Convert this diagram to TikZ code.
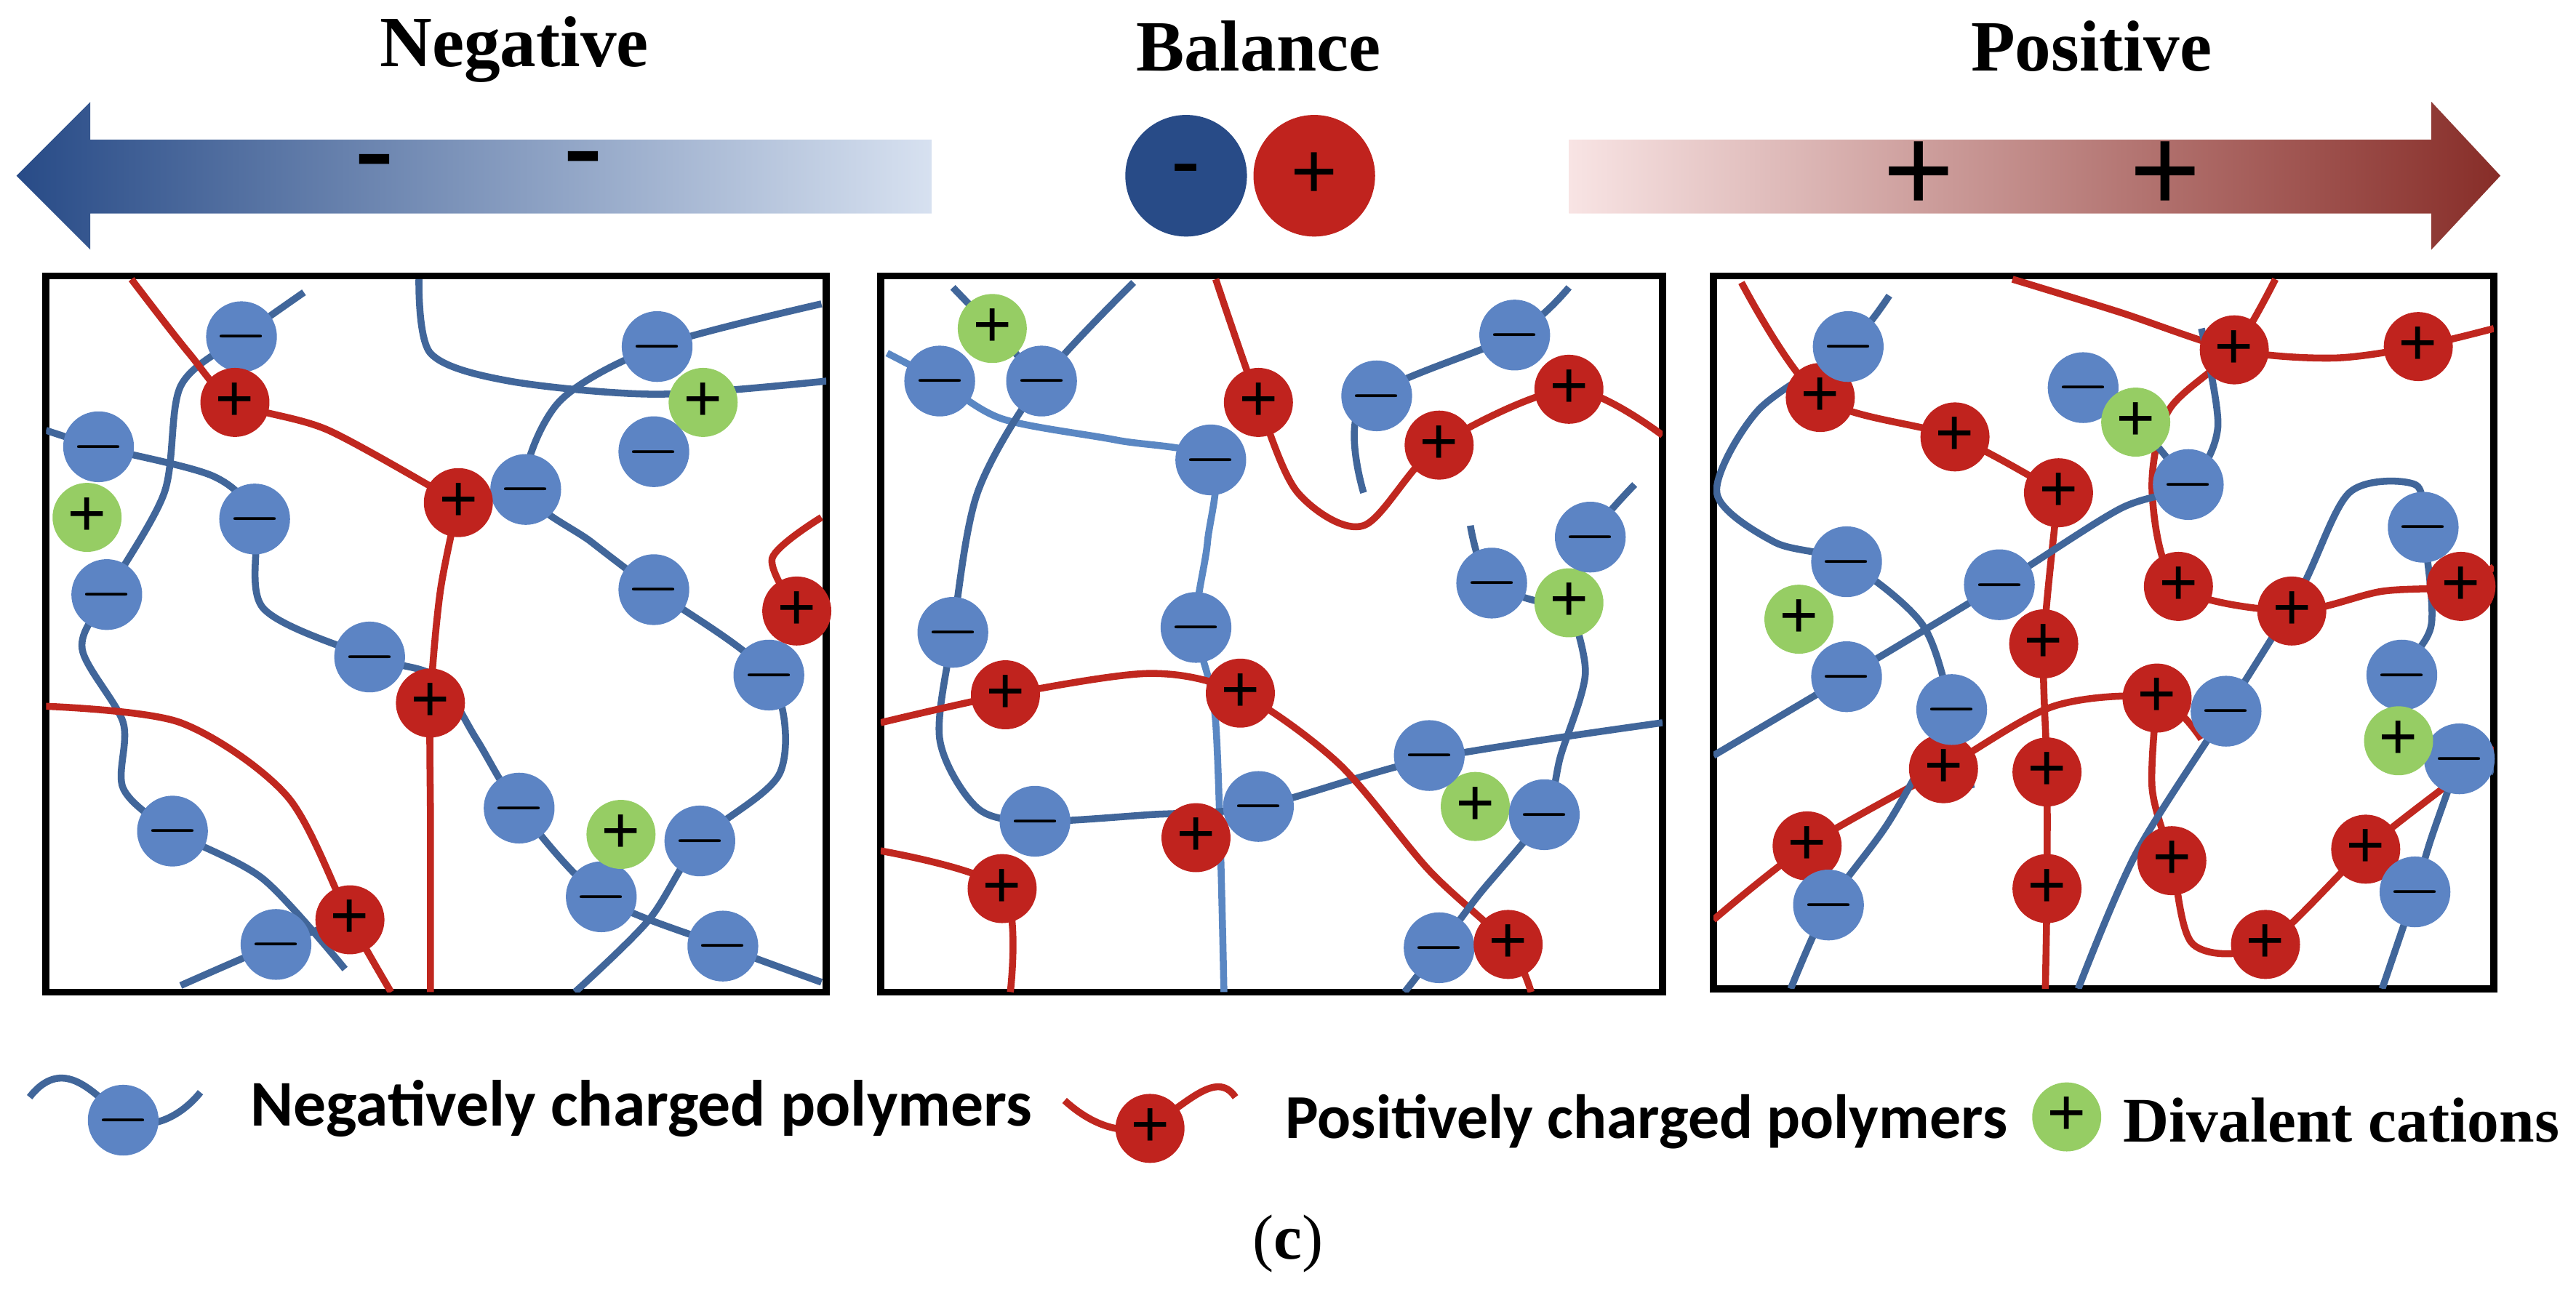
\documentclass[tikz,border=0pt]{standalone}
\usepackage{fontspec}
\setmainfont{Liberation Serif}
\newfontfamily\legfont{Carlito}
\begin{document}
\definecolor{cb}{RGB}{92,132,196}
\definecolor{cr}{RGB}{192,35,30}
\definecolor{cg}{RGB}{150,205,100}
\definecolor{lb}{RGB}{65,102,154}
\definecolor{lr}{RGB}{192,39,31}
\definecolor{lb2}{RGB}{90,135,195}
\begin{tikzpicture}[x=0.01cm,y=-0.01cm,
 bch/.style={draw=lb,line width=1.2pt},
 bch2/.style={draw=lb2,line width=1.2pt},
 rch/.style={draw=lr,line width=1.2pt},
 mi/.style={circle,fill=cb,minimum size=0.42cm,inner sep=0pt,font=\large},
 pl/.style={circle,fill=cr,minimum size=0.42cm,inner sep=0pt,font=\large\bfseries},
 dv/.style={circle,fill=cg,minimum size=0.42cm,inner sep=0pt,font=\large\bfseries},
 box/.style={draw=black,line width=1.2pt},
 ttl/.style={font=\fontsize{12.5}{14}\selectfont\bfseries},
 leg/.style={font=\legfont\fontsize{11.3}{13}\selectfont\bfseries,anchor=west}]
\useasboundingbox (0,0) rectangle (1568,788);
% titles
\node[ttl] (tn) at (313,30) {Negative};
\node[ttl] (tb) at (766,28) {Balance};
\node[ttl] (tp) at (1273,28) {Positive};
% arrows
\shade[left color={rgb,255:red,40;green,75;blue,135},right color={rgb,255:red,215;green,225;blue,240}]
 (10,107) -- (55,62) -- (55,85) -- (567,85) -- (567,130) -- (55,130) -- (55,152) -- cycle;
\shade[left color={rgb,255:red,248;green,228;blue,228},right color={rgb,255:red,135;green,45;blue,40}]
 (955,85) -- (1480,85) -- (1480,62) -- (1522,107) -- (1480,152) -- (1480,130) -- (955,130) -- cycle;
\node[font=\fontsize{20}{20}\selectfont\bfseries] (m1) at (228,104) {-};
\node[font=\fontsize{20}{20}\selectfont\bfseries] (m2) at (355,102) {-};
\node[font=\fontsize{22}{22}\selectfont\bfseries] (p1) at (1168,108) {+};
\node[font=\fontsize{22}{22}\selectfont\bfseries] (p2) at (1318,108) {+};
\node[circle,fill={rgb,255:red,40;green,75;blue,135},minimum size=0.74cm,inner sep=0pt,font=\Large\bfseries] (bn) at (722,107) {-};
\node[circle,fill=cr,minimum size=0.74cm,inner sep=0pt,font=\Large\bfseries] (bp) at (800,107) {+};
% boxes
\draw[box] (28,168) rectangle (503,604);
\draw[box] (536,168) rectangle (1012,604);
\draw[box] (1043,168) rectangle (1518,602);
% ---------- panel 1 chains
\begin{scope}
\clip (28,168) rectangle (503,604);
\draw[bch] plot[smooth] coordinates{(185,178)(147,205)(110,235)(100,300)(65,362)(50,395)(75,440)(75,480)(105,506)(160,535)(210,590)};
\draw[rch] plot[smooth] coordinates{(80,170)(115,215)(143,245)(200,262)(279,306)};
\draw[rch] plot[smooth] coordinates{(279,306)(268,360)(262,428)(262,500)(262,604)};
\draw[rch] plot[smooth] coordinates{(500,315)(470,340)(485,372)};
\draw[rch] plot[smooth] coordinates{(28,430)(110,440)(175,485)(213,560)(238,604)};
\draw[bch] plot[smooth] coordinates{(28,262)(60,272)(130,290)(155,316)(160,370)(225,400)(265,412)(290,450)(316,492)(366,546)(440,576)(500,598)};
\draw[bch] plot[smooth] coordinates{(255,170)(262,215)(310,232)(400,240)(503,232)};
\draw[bch] plot[smooth] coordinates{(500,185)(400,211)(340,245)(320,298)(360,330)(398,359)(468,411)(475,470)(426,512)(395,560)(350,604)};
\draw[bch] plot[smooth] coordinates{(110,600)(168,575)(213,560)};
\end{scope}
\node[mi] (a1) at (147,205) {$-$};
\node[mi] (a2) at (60,272) {$-$};
\node[mi] (a3) at (155,316) {$-$};
\node[mi] (a4) at (65,362) {$-$};
\node[mi] (a5) at (320,298) {$-$};
\node[mi] (a6) at (400,211) {$-$};
\node[mi] (a7) at (398,275) {$-$};
\node[mi] (a8) at (398,359) {$-$};
\node[mi] (a9) at (225,400) {$-$};
\node[mi] (a10) at (468,411) {$-$};
\node[mi] (a11) at (105,506) {$-$};
\node[mi] (a12) at (316,492) {$-$};
\node[mi] (a13) at (426,512) {$-$};
\node[mi] (a14) at (366,546) {$-$};
\node[mi] (a15) at (168,575) {$-$};
\node[mi] (a16) at (440,576) {$-$};
\node[pl] (b1) at (143,245) {+};
\node[pl] (b2) at (279,306) {+};
\node[pl] (b3) at (485,372) {+};
\node[pl] (b4) at (262,428) {+};
\node[pl] (b5) at (213,560) {+};
\node[dv] (c1) at (428,245) {+};
\node[dv] (c2) at (53,315) {+};
\node[dv] (c3) at (378,508) {+};
% ---------- panel 2 chains
\begin{scope}
\clip (536,168) rectangle (1012,604);
\draw[bch2] plot[smooth] coordinates{(540,215)(572,232)(610,255)(680,268)(737,280)(735,330)(728,382)(740,440)(745,604)};
\draw[bch] plot[smooth] coordinates{(690,172)(634,232)(595,300)(580,385)(572,450)(595,492)(630,500)(700,496)(766,491)(870,462)(1012,440)};
\draw[rch] plot[smooth] coordinates{(536,440)(612,423)(700,410)(755,422)(815,465)(870,530)(918,575)(932,604)};
\draw[rch] plot[smooth] coordinates{(740,170)(766,245)(790,300)(830,320)(876,271)(955,237)(1012,265)};
\draw[bch] plot[smooth] coordinates{(830,300)(830,245)(922,204)(955,175)};
\draw[bch] plot[smooth] coordinates{(995,295)(968,327)(955,367)(908,355)(895,320)};
\draw[bch] plot[smooth] coordinates{(955,367)(965,410)(950,460)(940,496)(900,545)(876,577)(855,604)};
\draw[rch] plot[smooth] coordinates{(536,518)(610,541)(615,604)};
\draw[bch] plot[smooth] coordinates{(580,175)(604,200)(634,232)};
\end{scope}
\node[dv] (d1) at (604,200) {+};
\node[dv] (d2) at (955,367) {+};
\node[dv] (d3) at (898,491) {+};
\node[mi] (e1) at (572,232) {$-$};
\node[mi] (e2) at (634,232) {$-$};
\node[mi] (e3) at (737,280) {$-$};
\node[mi] (e4) at (838,241) {$-$};
\node[mi] (e5) at (922,204) {$-$};
\node[mi] (e6) at (968,327) {$-$};
\node[mi] (e7) at (908,355) {$-$};
\node[mi] (e8) at (580,385) {$-$};
\node[mi] (e9) at (728,382) {$-$};
\node[mi] (e10) at (870,460) {$-$};
\node[mi] (e11) at (630,500) {$-$};
\node[mi] (e12) at (766,491) {$-$};
\node[mi] (e13) at (940,496) {$-$};
\node[mi] (e14) at (876,577) {$-$};
\node[pl] (f1) at (766,245) {+};
\node[pl] (f2) at (955,237) {+};
\node[pl] (f3) at (876,271) {+};
\node[pl] (f4) at (612,423) {+};
\node[pl] (f5) at (755,422) {+};
\node[pl] (f6) at (728,510) {+};
\node[pl] (f7) at (610,541) {+};
\node[pl] (f8) at (918,575) {+};
% ---------- panel 3 chains
\begin{scope}
\clip (1043,168) rectangle (1518,602);
\draw[rch] plot[smooth] coordinates{(1060,172)(1108,242)(1190,266)(1253,300)};
\draw[rch] plot[smooth] coordinates{(1225,170)(1290,190)(1360,213)(1420,218)(1472,211)(1518,200)};
\draw[rch] plot[smooth] coordinates{(1385,170)(1360,213)(1320,250)(1310,300)(1326,357)(1395,372)(1450,360)(1498,357)(1518,345)};
\draw[rch] plot[smooth] coordinates{(1253,300)(1244,392)(1246,470)(1246,541)(1245,602)};
\draw[rch] plot[smooth] coordinates{(1043,560)(1100,515)(1183,468)(1250,430)(1313,425)(1340,450)};
\draw[rch] plot[smooth] coordinates{(1313,425)(1310,480)(1322,524)(1335,575)(1379,575)(1440,517)(1500,470)(1518,455)};
\draw[bch] plot[smooth] coordinates{(1150,180)(1125,211)(1070,250)(1045,300)(1080,330)(1124,342)(1170,380)(1188,432)(1200,480)};
\draw[bch] plot[smooth] coordinates{(1043,460)(1124,412)(1217,356)(1290,310)(1332,295)(1350,260)(1340,200)};
\draw[bch] plot[smooth] coordinates{(1268,236)(1300,257)(1332,295)};
\draw[bch] plot[smooth] coordinates{(1265,602)(1300,520)(1355,433)(1400,360)(1430,300)(1470,295)(1475,321)(1480,380)(1462,411)(1460,451)(1497,462)(1518,470)};
\draw[bch] plot[smooth] coordinates{(1497,462)(1480,510)(1470,543)(1450,602)};
\draw[bch] plot[smooth] coordinates{(1090,602)(1113,551)(1150,500)(1188,432)};
\end{scope}
\foreach \n/\p in {1/{1108,242},2/{1190,266},3/{1253,300},4/{1360,213},5/{1472,211},6/{1326,357},7/{1395,372},8/{1498,357},9/{1244,392},10/{1313,425},11/{1183,468},12/{1246,470},13/{1100,515},14/{1246,541},15/{1322,524},16/{1440,517},17/{1379,575}}
 \node[pl] (g\n) at (\p) {+};
\foreach \n/\p in {1/{1125,211},2/{1268,236},3/{1332,295},4/{1475,321},5/{1124,342},6/{1217,356},7/{1124,412},8/{1188,432},9/{1355,433},10/{1462,411},11/{1497,462},12/{1470,543},13/{1113,551}}
 \node[mi] (h\n) at (\p) {$-$};
\node[dv] (k1) at (1300,257) {+};
\node[dv] (k2) at (1095,377) {+};
\node[dv] (k3) at (1460,451) {+};
% legend
\coordinate (lw1) at (18,668);
\coordinate (lw2) at (122,665);
\draw[bch] (lw1) .. controls (40,640) and (60,670) .. (75,680) .. controls (90,690) and (110,680) .. (lw2);
\node[mi] (ln) at (75,682) {$-$};
\node[leg] (lt1) at (140,675) {Negatively charged polymers};
\coordinate (lw3) at (648,670);
\coordinate (lw4) at (752,668);
\draw[rch] (lw3) .. controls (670,690) and (690,690) .. (700,685) .. controls (720,675) and (740,650) .. (lw4);
\node[pl] (lp) at (700,687) {+};
\node[leg,font=\legfont\fontsize{10.8}{13}\selectfont\bfseries] (lt2) at (770,683) {Positively charged polymers};
\node[dv] (lg) at (1258,680) {+};
\node[anchor=west,font=\fontsize{11}{12}\selectfont\bfseries] (lt3) at (1280,682) {Divalent cations};
\node[font=\fontsize{11}{12}\selectfont] (cap) at (784,757) {(\textbf{c})};
\end{tikzpicture}
\end{document}
